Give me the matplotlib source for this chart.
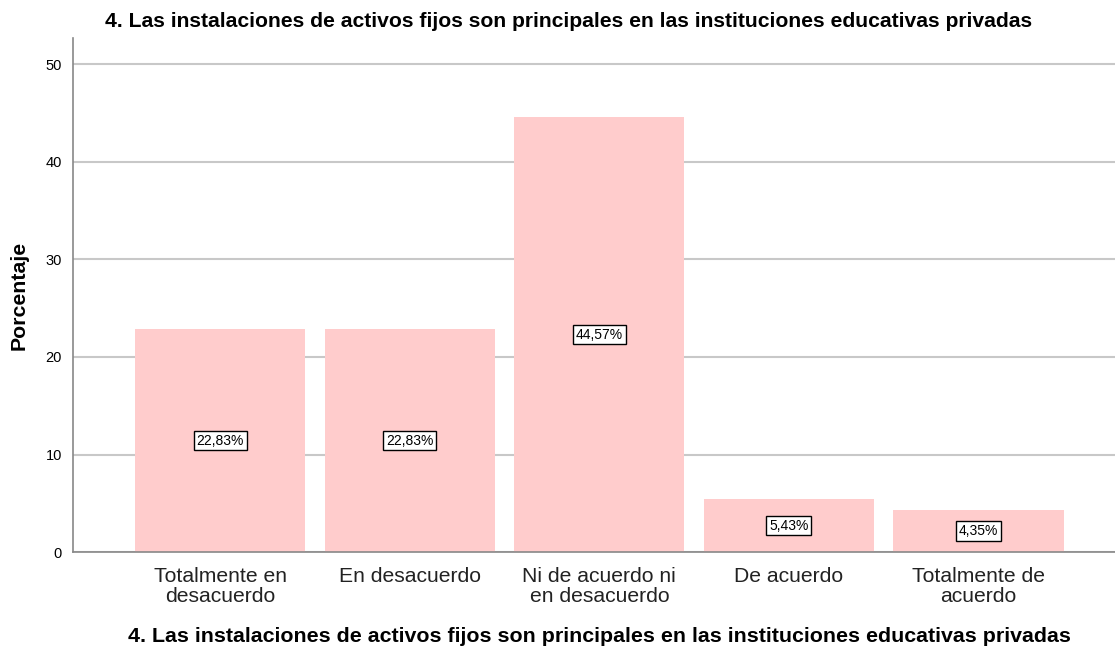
import matplotlib.pyplot as plt

plt.rcParams['font.family'] = ['Liberation Sans', 'DejaVu Sans']

# Data
categorias = ['Totalmente en\ndesacuerdo', 'En desacuerdo', 'Ni de acuerdo ni\nen desacuerdo',
              'De acuerdo', 'Totalmente de\nacuerdo']
porcentajes = [22.83, 22.83, 44.57, 5.43, 4.35]
etiquetas = ['22,83%', '22,83%', '44,57%', '5,43%', '4,35%']
titulo = '4. Las instalaciones de activos fijos son principales en las instituciones educativas privadas'

fig = plt.figure(figsize=(11.15, 6.51), dpi=100)
ax = fig.add_axes([0.0655, 0.152, 0.9345, 0.7896])

x = list(range(len(categorias)))
ax.bar(x, porcentajes, width=0.897, color='#FFCCCC', zorder=2)

for xi, v, lab in zip(x, porcentajes, etiquetas):
    ax.text(xi, v / 2, lab, ha='center', va='center', fontsize=10, zorder=3,
            bbox=dict(boxstyle='square,pad=0.2', facecolor='white', edgecolor='black', linewidth=1))

ax.set_xlim(-0.776, 4.72)
ax.set_ylim(0, 52.7)
ax.set_yticks([0, 10, 20, 30, 40, 50])
ax.set_xticks(x)
ax.set_xticklabels(categorias, fontsize=15.2, linespacing=1.05, color='#222222')
ax.tick_params(axis='y', labelsize=10.5, length=0, pad=8)
ax.tick_params(axis='x', length=0, pad=11)
ax.yaxis.grid(True, color='#C8C8C8', linewidth=1.5, zorder=0)
ax.set_axisbelow(True)

for s in ['top', 'right']:
    ax.spines[s].set_visible(False)
ax.spines['left'].set_color('#888888')
ax.spines['bottom'].set_color('#888888')
ax.spines['left'].set_linewidth(1.2)
ax.spines['bottom'].set_linewidth(1.2)

ax.set_ylabel('Porcentaje', fontsize=15.3, fontweight='bold', labelpad=12)
fig.text(0.510, 0.967, titulo, ha='center', va='center', fontsize=15.2, fontweight='bold')
fig.text(0.538, 0.022, titulo, ha='center', va='center', fontsize=15.4, fontweight='bold')

fig.savefig('out.png', dpi=100)
